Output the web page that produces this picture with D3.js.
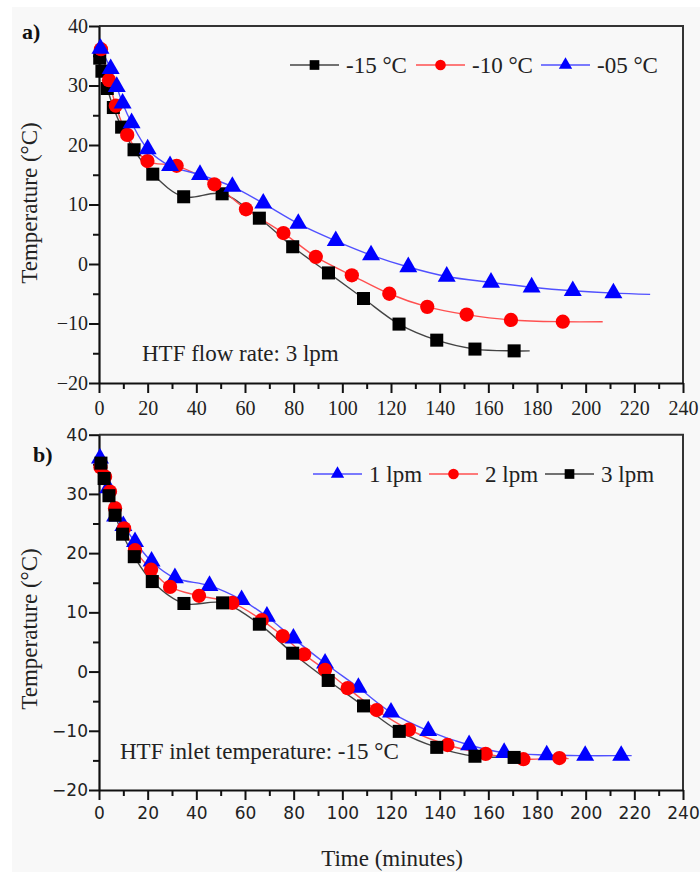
<!DOCTYPE html>
<html>
<head>
<meta charset="utf-8">
<script src="https://cdn.jsdelivr.net/npm/d3@7"></script>
<style>
  body { margin: 0; background: #ffffff; }
  svg { display: block; }
</style>
</head>
<body>
<div id="plot-container"></div>
<script>
// time axis ticks (minutes) and temperature ticks (°C)
const timeTicks = [0, 20, 40, 60, 80, 100, 120, 140, 160, 180, 200, 220, 240];
const tempTicks = [-20, -10, 0, 10, 20, 30, 40];

// panel a) : HTF flow rate 3 lpm, three inlet temperatures
const aTime15 = [0.3, 1.2, 3.4, 5.9, 9.3, 14.4, 22.1, 34.8, 50.6, 65.9, 79.6, 94.3, 108.7, 123.3, 138.8, 154.5, 170.6];
const aTemp15 = [34.6, 32.4, 29.5, 26.3, 23.0, 19.2, 15.1, 11.3, 11.8, 7.7, 2.9, -1.5, -5.8, -10.1, -12.8, -14.3, -14.6];
const aEnd15  = [177, -14.6];

const aTime10 = [0.8, 4.1, 6.9, 11.6, 19.9, 31.9, 47.4, 60.4, 75.8, 89.1, 103.9, 119.3, 134.9, 151.1, 169.3, 190.6];
const aTemp10 = [36.1, 30.9, 26.6, 21.7, 17.3, 16.5, 13.4, 9.2, 5.2, 1.2, -1.9, -5.0, -7.2, -8.5, -9.4, -9.7];
const aEnd10  = [207, -9.7];

const aTime05 = [0.6, 4.8, 7.3, 9.7, 13.4, 20.0, 29.2, 41.5, 54.8, 67.5, 81.9, 97.3, 111.8, 127.1, 142.9, 161.1, 177.8, 194.7, 211.4];
const aTemp05 = [36.2, 32.8, 29.8, 27.0, 23.7, 19.3, 16.5, 15.0, 13.0, 10.2, 6.8, 3.9, 1.5, -0.5, -2.1, -3.1, -3.9, -4.5, -4.9];
const aEnd05  = [226.5, -5.1];

// panel b) : HTF inlet temperature -15 °C, three flow rates
const bTime1 = [0.4, 3.8, 6.6, 10.0, 14.8, 21.6, 31.2, 45.4, 58.6, 69.0, 79.9, 92.9, 106.6, 120.0, 135.3, 152.1, 166.5, 184.0, 199.8, 214.6];
const bTemp1 = [36.0, 31.0, 26.2, 24.6, 21.9, 18.6, 15.8, 14.5, 12.1, 9.3, 5.6, 1.4, -2.7, -6.9, -10.0, -12.4, -13.7, -14.1, -14.2, -14.2];
const bEnd1  = [218.9, -14.2];

const bTime2 = [0.6, 2.5, 4.5, 6.6, 10.3, 14.8, 21.4, 29.2, 41.1, 54.8, 66.9, 75.5, 84.3, 92.9, 102.2, 114.1, 127.4, 143.2, 158.9, 174.4, 189.2];
const bTemp2 = [34.5, 32.9, 30.4, 27.6, 24.2, 20.5, 17.2, 14.3, 12.8, 11.6, 8.7, 6.0, 2.9, 0.3, -2.8, -6.5, -9.8, -12.4, -13.9, -14.8, -14.6];
const bEnd2  = [193, -14.7];

const bTime3 = [0.8, 2.1, 4.1, 6.6, 9.7, 14.5, 21.9, 34.9, 50.8, 65.9, 79.6, 94.2, 108.7, 123.4, 138.8, 154.5, 170.6];
const bTemp3 = [35.2, 32.6, 29.7, 26.4, 23.2, 19.4, 15.2, 11.5, 11.6, 8.0, 3.1, -1.5, -5.8, -10.1, -12.8, -14.3, -14.5];
const bEnd3  = [174, -14.6];

const serif = "'Liberation Serif', 'Times New Roman', serif";
const sans  = "'DejaVu Sans', Verdana, sans-serif";

const svg = d3.select("#plot-container")
        .append("svg")
        .attr("width", 700)
        .attr("height", 872);

    // light grey page behind the figure
svg.append("rect").attr("x", 12).attr("y", 7).attr("width", 688).attr("height", 865).attr("fill", "#f8f8f8");

const x = d3.scaleLinear().domain([0, 240]).range([99, 683]);

function toPoints(times, temps) {
    return times.map((t, i) => ({t: t, v: temps[i]}));
}

function drawPanel(p) {
    const y = d3.scaleLinear().domain([-20, 40]).range([p.bottom, p.top]);
    const g = svg.append("g");

        // frame (top and right)
    g.append("path")
            .attr("d", `M${x(0)},${y(40)}H${x(240)}V${y(-20)}`)
            .attr("fill", "none")
            .attr("stroke", "#333")
            .attr("stroke-width", 2);

        // minor ticks
    g.append("g")
            .attr("transform", `translate(0,${y(-20)})`)
            .call(d3.axisBottom(x).tickValues(d3.range(10, 240, 20)).tickSize(6).tickFormat(""))
            .call(a => a.select(".domain").remove());
    g.append("g")
            .attr("transform", `translate(${x(0)},0)`)
            .call(d3.axisLeft(y).tickValues(d3.range(-15, 40, 10)).tickSize(6).tickFormat(""))
            .call(a => a.select(".domain").remove());

        // major ticks + labels
    const xa = g.append("g")
            .attr("transform", `translate(0,${y(-20)})`)
            .call(d3.axisBottom(x).tickValues(timeTicks).tickSize(10).tickPadding(p.xPad).tickSizeOuter(0));
    const ya = g.append("g")
            .attr("transform", `translate(${x(0)},0)`)
            .call(d3.axisLeft(y).tickValues(tempTicks).tickSize(10).tickPadding(1).tickSizeOuter(0));

    [xa, ya].forEach(a => {
        a.select(".domain").attr("stroke", "#111").attr("stroke-width", 2.2);
        a.selectAll("text")
                .attr("fill", "#222")
                .style("font-family", p.tickFont)
                .style("font-size", p.tickSize + "px");
    });
    g.selectAll(".tick line").attr("stroke", "#111").attr("stroke-width", 2);

        // series: smooth line through the markers
    p.series.forEach(s => {
        const pts = toPoints(s.times, s.temps);
        const linePts = pts.concat([{t: s.end[0], v: s.end[1]}]);
        const line = d3.line()
                .curve(d3.curveCatmullRom.alpha(0.5))
                .x(d => x(d.t))
                .y(d => y(d.v));
        g.append("path")
                .datum(linePts)
                .attr("fill", "none")
                .attr("stroke", s.line)
                .attr("stroke-width", 1.4)
                .attr("d", line);
    });
    p.series.forEach(s => {
        const pts = toPoints(s.times, s.temps);
        g.selectAll(null)
                .data(pts)
                .enter()
                .append("path")
                .attr("transform", d => `translate(${x(d.t)},${y(d.v)})`)
                .attr("d", d3.symbol().type(s.shape).size(s.size))
                .attr("fill", s.color);
    });

        // legend (line - marker - label)
    p.series.forEach(s => {
        const lg = g.append("g").attr("transform", `translate(${s.lx},${p.legendY})`);
        lg.append("line").attr("x1", 0).attr("x2", 49).attr("stroke", s.line).attr("stroke-width", 1.6);
        lg.append("path")
                .attr("transform", "translate(24.5,0)")
                .attr("d", d3.symbol().type(s.shape).size(s.size * 0.55))
                .attr("fill", s.color);
        lg.append("text")
                .attr("x", 56)
                .attr("dy", "0.35em")
                .style("font-family", serif)
                .style("font-size", "23px")
                .attr("fill", "#222")
                .text(s.label);
    });

        // note inside the plot
    g.append("text")
            .attr("x", p.noteX)
            .attr("y", p.noteY)
            .style("font-family", serif)
            .style("font-size", "23px")
            .attr("fill", "#222")
            .text(p.note);

        // panel letter
    g.append("text")
            .attr("x", p.letterX)
            .attr("y", p.letterY)
            .style("font-family", serif)
            .style("font-size", "22px")
            .style("font-weight", "bold")
            .attr("fill", "#111")
            .text(p.letter);

        // Y label
    g.append("text")
            .attr("text-anchor", "middle")
            .attr("transform", `translate(29,${p.ylabelY}) rotate(-90)`)
            .attr("dy", "0.35em")
            .style("font-family", serif)
            .style("font-size", "23px")
            .attr("fill", "#222")
            .text("Temperature (°C)");
}

const sq = d3.symbolSquare, ci = d3.symbolCircle, tr = d3.symbolTriangle;

drawPanel({
    top: 26, bottom: 383, xPad: 8, tickFont: serif, tickSize: 20,
    legendY: 65, note: "HTF flow rate: 3 lpm", noteX: 142, noteY: 361,
    letter: "a)", letterX: 22, letterY: 39, ylabelY: 203,
    series: [
        {times: aTime15, temps: aTemp15, end: aEnd15, shape: sq, size: 170, color: "#000", line: "#444", label: "-15 °C", lx: 290},
        {times: aTime10, temps: aTemp10, end: aEnd10, shape: ci, size: 160, color: "#ff0000", line: "#ff5050", label: "-10 °C", lx: 416},
        {times: aTime05, temps: aTemp05, end: aEnd05, shape: tr, size: 140, color: "#0000ff", line: "#5050ff", label: "-05 °C", lx: 541}
    ]
});

drawPanel({
    top: 434.7, bottom: 790, xPad: 7, tickFont: sans, tickSize: 17,
    legendY: 474, note: "HTF inlet temperature: -15 °C", noteX: 120, noteY: 759,
    letter: "b)", letterX: 33, letterY: 462, ylabelY: 629,
    series: [
        {times: bTime1, temps: bTemp1, end: bEnd1, shape: tr, size: 140, color: "#0000ff", line: "#5050ff", label: "1 lpm", lx: 313},
        {times: bTime2, temps: bTemp2, end: bEnd2, shape: ci, size: 160, color: "#ff0000", line: "#ff5050", label: "2 lpm", lx: 429},
        {times: bTime3, temps: bTemp3, end: bEnd3, shape: sq, size: 170, color: "#000", line: "#444", label: "3 lpm", lx: 545}
    ]
});

    // X label
svg.append("text")
        .attr("text-anchor", "middle")
        .attr("x", 392)
        .attr("y", 866)
        .style("font-family", serif)
        .style("font-size", "23px")
        .attr("fill", "#222")
        .text("Time (minutes)");
</script>
</body>
</html>
